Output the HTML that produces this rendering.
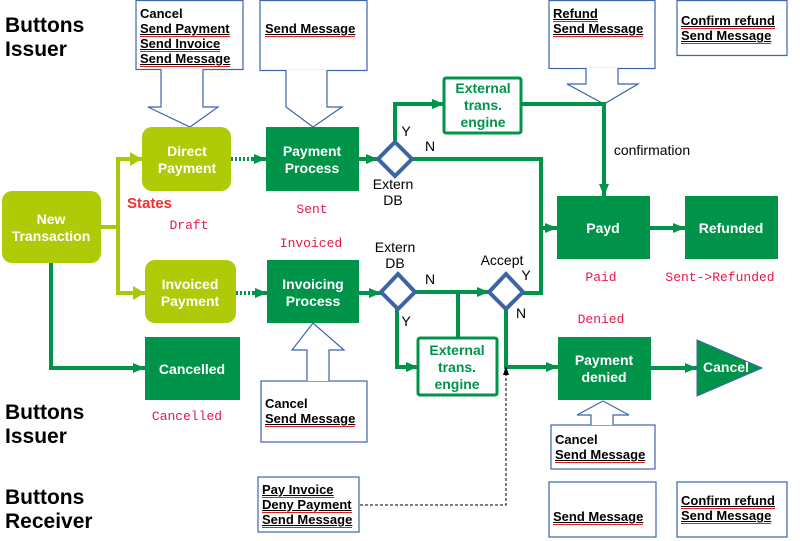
<!DOCTYPE html>
<html><head><meta charset="utf-8"><style>
body{margin:0;width:800px;height:541px;background:#fff;position:relative;overflow:hidden;font-family:"Liberation Sans",sans-serif}
svg{position:absolute;left:0;top:0}
.t{position:absolute;font-weight:bold;font-size:13px;line-height:15px;color:#000;white-space:nowrap}
.u{text-decoration:underline;border-bottom:1px solid #e02020;padding-bottom:0}
.h{position:absolute;font-weight:bold;font-size:21px;line-height:24px;color:#000}
</style></head><body>
<svg width="800" height="541" viewBox="0 0 800 541">
<defs>
<marker id="ag" markerWidth="12" markerHeight="12" refX="12" refY="6" orient="auto" markerUnits="userSpaceOnUse" viewBox="0 0 12 12"><path d="M0,1L12,6L0,11z" fill="#00944a"/></marker>
<marker id="al" markerWidth="12" markerHeight="14" refX="12" refY="7" orient="auto" markerUnits="userSpaceOnUse" viewBox="0 0 12 14"><path d="M0,0L12,7L0,14z" fill="#a9c80a"/></marker>
</defs>
<g fill="#fff" stroke="#3b64ad" stroke-width="1.2">
<rect x="136" y="0.5" width="107" height="69"/>
<path d="M161,69V107H148L190,127L218,107H203V69"/>
<rect x="260" y="0.5" width="107" height="70"/>
<path d="M286,70V107H286L313,127L342,107H327V70"/>
<rect x="549" y="0.5" width="106" height="68"/>
<path d="M586,68V84H567L604,104L638,84H618V68"/>
<rect x="677" y="0.5" width="110" height="55"/>
<rect x="261" y="381" width="106" height="61"/>
<path d="M307,381V350H292L313,323L344,350H329V381"/>
<rect x="551" y="425" width="104" height="44"/>
<path d="M591,425V415H577L603,401L629,415H613V425"/>
<rect x="258" y="477" width="101" height="55"/>
<rect x="549" y="482" width="107" height="55"/>
<rect x="677" y="482" width="110" height="55"/>
</g>
<g stroke="#a9c80a" stroke-width="4" fill="none">
<path d="M101,227H118"/>
<path d="M118,157V295"/>
<path d="M118,159H142" marker-end="url(#al)"/>
<path d="M118,293H145" marker-end="url(#al)"/>
</g>
<g stroke="#00944a" stroke-width="4" fill="none">
<path d="M51,263V368H145" marker-end="url(#ag)"/>
<path d="M231,159H254" stroke-dasharray="2,2"/>
<path d="M252,159H266" marker-end="url(#ag)"/>
<path d="M236,293H255" stroke-dasharray="2,2"/>
<path d="M253,293H267" marker-end="url(#ag)"/>
<path d="M359,159H378" marker-end="url(#ag)"/>
<path d="M359,293H381" marker-end="url(#ag)"/>
<path d="M395,142V104H444" marker-end="url(#ag)"/>
<path d="M522,104H604V196" marker-end="url(#ag)"/>
<path d="M412,159H541V293H523"/>
<path d="M539,228H557" marker-end="url(#ag)"/>
<path d="M650,228H685" marker-end="url(#ag)"/>
<path d="M415,292H489" marker-end="url(#ag)"/>
<path d="M458,292V338"/>
<path d="M397,308V367H418" marker-end="url(#ag)"/>
<path d="M506,308V367H558" marker-end="url(#ag)"/>
<path d="M651,368H697" marker-end="url(#ag)"/>
</g>
<path d="M360,505H506V372" stroke="#000" stroke-width="1" stroke-dasharray="3,2" fill="none"/>
<path d="M503,375L506,366L509,375z" fill="#000"/>
<rect x="2" y="191" width="99" height="72" rx="10" fill="#afcb08"/>
<rect x="142" y="127" width="89" height="64" rx="10" fill="#afcb08"/>
<rect x="145" y="260" width="91" height="63" rx="10" fill="#afcb08"/>
<g fill="#00944a">
<rect x="266" y="127" width="93" height="64"/>
<rect x="267" y="260" width="92" height="63"/>
<rect x="145" y="337" width="95" height="63"/>
<rect x="557" y="196" width="93" height="63"/>
<rect x="685" y="196" width="93" height="63"/>
<rect x="558" y="337" width="93" height="63"/>
<path d="M697,340L762,368L697,396z" stroke="#3b64ad" stroke-width="1"/>
</g>
<g fill="#fff" stroke="#00944a" stroke-width="3">
<rect x="444" y="78" width="77" height="55" rx="2"/>
<rect x="418" y="338" width="79" height="57" rx="2"/>
</g>
<g fill="#fff" stroke="#3d65a6" stroke-width="4">
<path d="M395,142L412,159L395,176L378,159z"/>
<path d="M398,274L415,292L398,309L381,292z"/>
<path d="M506,274L523,292L506,309L489,292z"/>
</g>
<g font-family="Liberation Sans,sans-serif" font-weight="bold" font-size="14" fill="#fff" text-anchor="middle">
<text x="51" y="224">New</text><text x="51" y="241">Transaction</text>
<text x="187" y="156">Direct</text><text x="187" y="173">Payment</text>
<text x="190" y="289">Invoiced</text><text x="190" y="306">Payment</text>
<text x="312" y="156">Payment</text><text x="312" y="173">Process</text>
<text x="313" y="289">Invoicing</text><text x="313" y="306">Process</text>
<text x="192" y="374">Cancelled</text>
<text x="603" y="233">Payd</text>
<text x="731" y="233">Refunded</text>
<text x="604" y="365">Payment</text><text x="604" y="382">denied</text>
<text x="726" y="372">Cancel</text>
</g>
<g font-family="Liberation Sans,sans-serif" font-weight="bold" font-size="14" fill="#00944a" text-anchor="middle">
<text x="483" y="93">External</text><text x="483" y="110">trans.</text><text x="483" y="127">engine</text>
<text x="457" y="355">External</text><text x="457" y="372">trans.</text><text x="457" y="389">engine</text>
</g>
<g font-family="Liberation Sans,sans-serif" font-size="14" fill="#000" text-anchor="middle">
<text x="393" y="189">Extern</text><text x="393" y="205">DB</text>
<text x="395" y="252">Extern</text><text x="395" y="268">DB</text>
<text x="502" y="265">Accept</text>
<text x="406" y="136">Y</text><text x="430" y="151">N</text>
<text x="430" y="284">N</text><text x="406" y="326">Y</text>
<text x="526" y="280">Y</text><text x="521" y="318">N</text>
<text x="652" y="155">confirmation</text>
</g>
<text x="127" y="208" font-family="Liberation Sans,sans-serif" font-weight="bold" font-size="15" fill="#f03030">States</text>
<g font-family="Liberation Mono,monospace" font-size="13" fill="#e8174a" text-anchor="middle">
<text x="189" y="229">Draft</text>
<text x="312" y="213">Sent</text>
<text x="311" y="247">Invoiced</text>
<text x="187" y="420">Cancelled</text>
<text x="601" y="281">Paid</text>
<text x="720" y="281">Sent-&gt;Refunded</text>
<text x="601" y="323">Denied</text>
</g>
</svg>
<div class="h" style="left:5px;top:14px">Buttons<br>Issuer</div>
<div class="h" style="left:5px;top:401px">Buttons<br>Issuer</div>
<div class="h" style="left:5px;top:486px">Buttons<br>Receiver</div>
<div class="t" style="left:140px;top:6px">Cancel<br><span class="u">Send Payment</span><br><span class="u">Send Invoice</span><br><span class="u">Send Message</span></div>
<div class="t" style="left:265px;top:21px"><span class="u">Send Message</span></div>
<div class="t" style="left:553px;top:6px"><span class="u">Refund</span><br><span class="u">Send Message</span></div>
<div class="t" style="left:681px;top:13px"><span class="u">Confirm refund</span><br><span class="u">Send Message</span></div>
<div class="t" style="left:265px;top:396px">Cancel<br><span class="u">Send Message</span></div>
<div class="t" style="left:555px;top:432px">Cancel<br><span class="u">Send Message</span></div>
<div class="t" style="left:262px;top:482px"><span class="u">Pay Invoice</span><br><span class="u">Deny Payment</span><br><span class="u">Send Message</span></div>
<div class="t" style="left:553px;top:509px"><span class="u">Send Message</span></div>
<div class="t" style="left:681px;top:493px"><span class="u">Confirm refund</span><br><span class="u">Send Message</span></div>
</body></html>
